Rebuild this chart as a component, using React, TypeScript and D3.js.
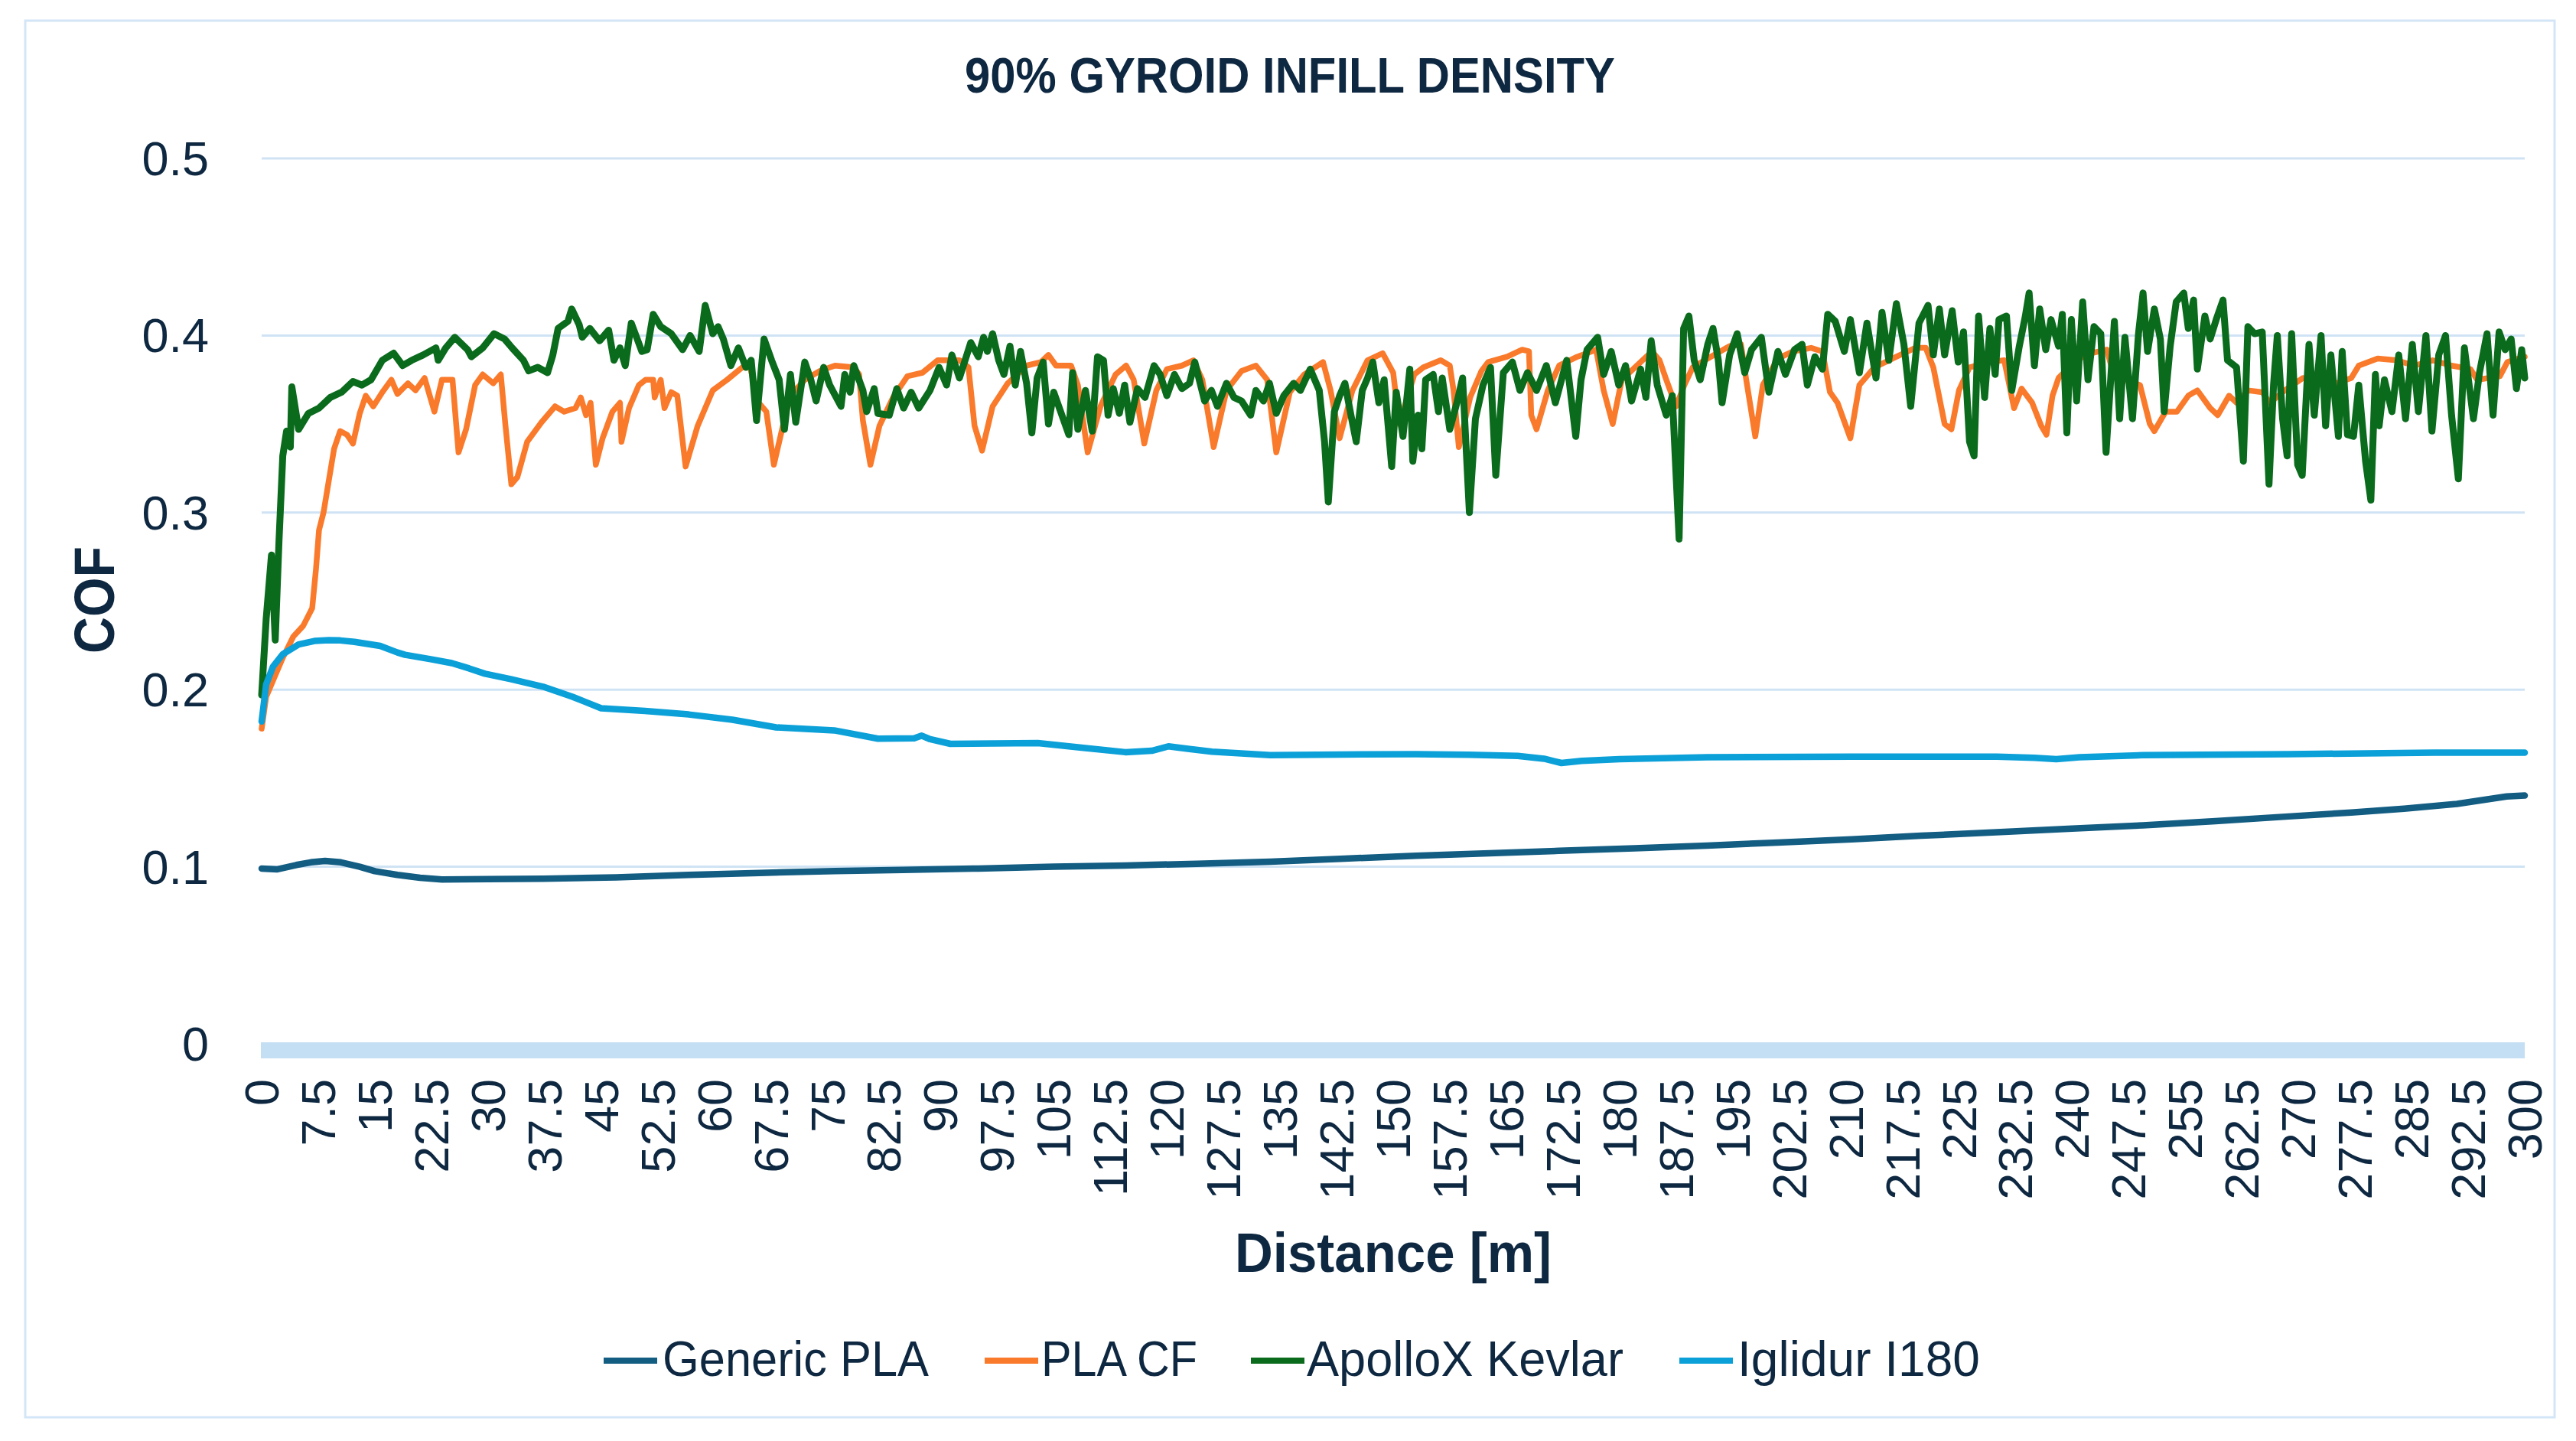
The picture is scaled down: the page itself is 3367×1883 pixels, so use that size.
import React, { useEffect } from "react";
import * as d3 from "d3";

// ---------- DATA ----------
const chartTitle = "90% GYROID INFILL DENSITY";
const xAxisTitle = "Distance [m]";
const yAxisTitle = "COF";
const seriesNames = ["Generic PLA", "PLA CF", "ApolloX Kevlar", "Iglidur I180"];
const seriesColors = ["#135D83", "#FA7A2C", "#0B6B1D", "#0CA0D8"];
const yTicks = [0, 0.1, 0.2, 0.3, 0.4, 0.5];
const yTickLabels = ["0", "0.1", "0.2", "0.3", "0.4", "0.5"];
const xTicks = [
  0, 7.5, 15, 22.5, 30, 37.5, 45, 52.5, 60, 67.5, 75, 82.5, 90, 97.5, 105, 112.5, 120, 127.5, 135,
  142.5, 150, 157.5, 165, 172.5, 180, 187.5, 195, 202.5, 210, 217.5, 225, 232.5, 240, 247.5, 255,
  262.5, 270, 277.5, 285, 292.5, 300,
];

// [distance m, COF]
const genericPLA: [number, number][] = [
  [0, 0.099], [2, 0.0985], [4.6, 0.101], [6.5, 0.1025], [8.4, 0.1033], [10.5, 0.1025], [13, 0.1],
  [15, 0.0975], [18, 0.0954], [21, 0.0938], [23.9, 0.0928], [30, 0.093], [37.3, 0.0932], [47, 0.094],
  [56.6, 0.0954], [66, 0.0965], [76, 0.0976], [85, 0.0982], [95, 0.099], [105, 0.1], [114.5, 0.1007],
  [124, 0.1017], [133.7, 0.1029], [143, 0.1045], [153, 0.1062], [162, 0.1075], [172, 0.109],
  [182, 0.1104], [191.6, 0.1119], [201, 0.1137], [210.8, 0.1155], [220, 0.1175], [230, 0.1195],
  [240, 0.1215], [249.4, 0.1234], [259, 0.1258], [268.7, 0.1284], [277, 0.1306], [284, 0.1328],
  [291, 0.1355], [297.6, 0.1397], [300, 0.1402],
];

const plaCF: [number, number][] = [
  [0, 0.178], [0.6, 0.196], [1.5, 0.205], [2.8, 0.218], [4.2, 0.23], [5.5, 0.236], [6.7, 0.246],
  [7.2, 0.268], [7.6, 0.29], [8.2, 0.3], [8.9, 0.318], [9.6, 0.336], [10.4, 0.346], [11.3, 0.344],
  [12.1, 0.339], [13, 0.356], [13.8, 0.366], [14.8, 0.36], [16, 0.368], [17.2, 0.375], [18, 0.367],
  [19.4, 0.373], [20.4, 0.369], [21.6, 0.376], [22.9, 0.357], [23.9, 0.375], [25.3, 0.375],
  [26.1, 0.334], [27.1, 0.347], [28.3, 0.372], [29.3, 0.378], [30.7, 0.373], [31.7, 0.378],
  [32.3, 0.35], [33.1, 0.316], [33.9, 0.32], [35.2, 0.34], [37.1, 0.351], [38.9, 0.36], [40.1, 0.357],
  [41.6, 0.359], [42.3, 0.365], [43, 0.355], [43.6, 0.362], [44.3, 0.327], [45.2, 0.342],
  [46.5, 0.357], [47.5, 0.362], [47.7, 0.34], [48.7, 0.359], [50, 0.372], [50.9, 0.375],
  [51.9, 0.375], [52.1, 0.365], [52.9, 0.375], [53.4, 0.359], [54.3, 0.368], [55.1, 0.366],
  [56.2, 0.326], [57.8, 0.349], [59.8, 0.369], [61.7, 0.375], [63.7, 0.382], [64.7, 0.383],
  [65.9, 0.362], [66.9, 0.357], [67.9, 0.327], [69.1, 0.349], [70.1, 0.366], [72, 0.375], [74, 0.38],
  [76, 0.383], [78.5, 0.382], [79.2, 0.378], [79.7, 0.352], [80.7, 0.327], [81.9, 0.349],
  [83.7, 0.365], [85.6, 0.377], [87.6, 0.379], [89.6, 0.386], [92.5, 0.386], [93.7, 0.382],
  [94.5, 0.349], [95.5, 0.335], [96.9, 0.36], [98.9, 0.373], [101.4, 0.383], [103.3, 0.385],
  [104.3, 0.389], [105.3, 0.383], [107.3, 0.383], [108.2, 0.372], [109.5, 0.334], [111.2, 0.36],
  [113.2, 0.378], [114.6, 0.383], [115.6, 0.375], [117, 0.339], [118.6, 0.369], [120, 0.381],
  [122, 0.383], [123.5, 0.386], [124.7, 0.375], [126.2, 0.337], [127.9, 0.369], [129.9, 0.38],
  [131.8, 0.383], [133.3, 0.375], [134.5, 0.334], [136.3, 0.368], [138.2, 0.378], [140.7, 0.385],
  [141.7, 0.369], [142.9, 0.342], [144.6, 0.369], [146.6, 0.386], [148.6, 0.39], [150, 0.379],
  [150.8, 0.35], [152.8, 0.378], [154, 0.382], [156.3, 0.386], [157.5, 0.383], [158, 0.369],
  [158.7, 0.337], [160.2, 0.365], [161.7, 0.38], [162.6, 0.385], [165.1, 0.388], [167.1, 0.392],
  [168, 0.391], [168.3, 0.355], [169, 0.347], [170.5, 0.369], [172, 0.383], [174.4, 0.388],
  [176.9, 0.392], [177.9, 0.369], [179.1, 0.35], [180.3, 0.375], [182.3, 0.383], [184.3, 0.391],
  [185.3, 0.386], [186.2, 0.375], [187.5, 0.36], [188.6, 0.372], [189.7, 0.382], [192.1, 0.388],
  [194.6, 0.394], [196.1, 0.395], [196.8, 0.375], [198, 0.343], [199, 0.372], [201, 0.387],
  [203, 0.391], [205.4, 0.393], [206.9, 0.391], [207.9, 0.368], [208.9, 0.362], [210.6, 0.342],
  [211.8, 0.372], [213.8, 0.382], [216.7, 0.388], [219.2, 0.393], [220.6, 0.393], [221.6, 0.382],
  [223.1, 0.35], [224, 0.347], [225, 0.369], [226.4, 0.382], [229, 0.385], [231, 0.386],
  [232.3, 0.359], [233.3, 0.37], [234.7, 0.362], [235.9, 0.349], [236.6, 0.344], [237.4, 0.366],
  [238.2, 0.376], [240.5, 0.386], [242.5, 0.39], [244.6, 0.392], [245.5, 0.378], [247, 0.375],
  [249, 0.372], [250.3, 0.35], [250.9, 0.346], [252.4, 0.357], [253.9, 0.357], [255.4, 0.366],
  [256.6, 0.369], [258.3, 0.359], [259.3, 0.355], [260.8, 0.366], [261.8, 0.362], [263.3, 0.369],
  [265.2, 0.368], [266.2, 0.362], [268.2, 0.369], [270.6, 0.376], [273, 0.374], [275, 0.373],
  [277, 0.376], [278, 0.383], [280.5, 0.387], [283, 0.386], [285.4, 0.383], [287.8, 0.386],
  [290.3, 0.383], [292.8, 0.381], [293.7, 0.375], [296.7, 0.377], [297.7, 0.385], [300, 0.388],
];

const apolloXKevlar: [number, number][] = [
  [0, 0.197], [0.6, 0.24], [1.3, 0.276], [1.8, 0.228], [2.3, 0.284], [2.8, 0.332], [3.3, 0.346],
  [3.8, 0.337], [4.0, 0.371], [4.9, 0.347], [6.2, 0.356], [7.6, 0.359], [9.1, 0.365], [10.6, 0.368],
  [12.1, 0.374], [13.3, 0.372], [14.5, 0.375], [16, 0.386], [17.5, 0.39], [18.7, 0.383],
  [19.9, 0.386], [21.4, 0.389], [23.1, 0.393], [23.4, 0.386], [24.4, 0.393], [25.6, 0.399],
  [27.3, 0.392], [27.8, 0.388], [29.3, 0.393], [30.8, 0.401], [32.2, 0.398], [33.2, 0.393],
  [34.7, 0.386], [35.4, 0.38], [36.6, 0.382], [37.9, 0.379], [38.6, 0.389], [39.3, 0.404],
  [40.6, 0.408], [41.1, 0.415], [42.1, 0.406], [42.5, 0.399], [43.5, 0.404], [44.8, 0.397],
  [46, 0.403], [46.7, 0.386], [47.5, 0.393], [48.2, 0.383], [49, 0.407], [49.7, 0.399],
  [50.4, 0.391], [51.1, 0.392], [51.9, 0.412], [52.9, 0.405], [54.3, 0.401], [55.8, 0.392],
  [56.8, 0.4], [58, 0.391], [58.8, 0.417], [59.8, 0.401], [60.5, 0.405], [61.2, 0.398],
  [62.2, 0.383], [63.2, 0.393], [64.2, 0.382], [64.9, 0.386], [65.6, 0.352], [66.6, 0.398],
  [67.6, 0.386], [68.6, 0.375], [69.3, 0.347], [70.1, 0.378], [70.8, 0.351], [72, 0.385],
  [72.8, 0.375], [73.5, 0.363], [74.5, 0.382], [75.3, 0.372], [76.8, 0.36], [77.3, 0.378],
  [78, 0.368], [78.5, 0.383], [79.7, 0.369], [80.2, 0.357], [81.2, 0.37], [81.7, 0.356],
  [83.2, 0.355], [84.2, 0.37], [85.1, 0.359], [86.1, 0.368], [87.1, 0.359], [88.6, 0.369],
  [89.8, 0.382], [90.8, 0.372], [91.5, 0.389], [92.5, 0.376], [94, 0.396], [95, 0.388],
  [95.7, 0.399], [96.2, 0.391], [96.9, 0.401], [97.7, 0.386], [98.4, 0.378], [99.2, 0.394],
  [99.9, 0.372], [100.6, 0.391], [101.4, 0.373], [102.1, 0.345], [102.8, 0.376], [103.6, 0.385],
  [104.3, 0.35], [105, 0.368], [106, 0.356], [107, 0.344], [107.5, 0.379], [108.2, 0.347],
  [109.2, 0.369], [110.1, 0.346], [110.8, 0.388], [111.6, 0.386], [112.2, 0.355], [112.9, 0.37],
  [113.7, 0.356], [114.4, 0.372], [115.1, 0.351], [116.1, 0.37], [117.1, 0.365], [118.3, 0.383],
  [119.1, 0.378], [120, 0.366], [121, 0.378], [122, 0.37], [123, 0.373], [123.7, 0.385],
  [125, 0.363], [125.9, 0.369], [126.7, 0.36], [127.9, 0.373], [128.9, 0.365], [129.9, 0.363],
  [131.1, 0.355], [131.8, 0.369], [132.8, 0.363], [133.6, 0.373], [134.5, 0.356], [135.5, 0.366],
  [136.8, 0.373], [137.7, 0.369], [139, 0.381], [140.2, 0.369], [140.9, 0.34], [141.4, 0.306],
  [142.2, 0.357], [142.9, 0.366], [143.6, 0.373], [144.4, 0.355], [145.1, 0.34], [145.9, 0.369],
  [146.6, 0.376], [147.3, 0.385], [148.1, 0.362], [148.8, 0.375], [149.8, 0.326], [150.4, 0.368],
  [151.3, 0.343], [152.2, 0.381], [152.6, 0.329], [153.3, 0.355], [153.8, 0.336], [154.3, 0.375],
  [155.3, 0.378], [156, 0.357], [156.5, 0.376], [157.5, 0.347], [158.5, 0.363], [159.2, 0.376],
  [160.1, 0.3], [160.9, 0.353], [161.9, 0.372], [162.9, 0.382], [163.6, 0.321], [164.6, 0.379],
  [165.8, 0.385], [166.8, 0.369], [167.8, 0.379], [169, 0.369], [170.3, 0.383], [171.5, 0.362],
  [173, 0.386], [174.2, 0.343], [174.9, 0.375], [175.7, 0.392], [177.1, 0.399], [177.9, 0.378],
  [178.9, 0.391], [179.9, 0.372], [180.8, 0.383], [181.6, 0.363], [182.8, 0.381], [183.5, 0.365],
  [184.2, 0.397], [185, 0.372], [186.2, 0.355], [187, 0.366], [187.9, 0.285], [188.5, 0.404],
  [189.2, 0.411], [189.9, 0.386], [190.7, 0.375], [191.7, 0.395], [192.4, 0.404], [193.1, 0.386],
  [193.6, 0.362], [194.6, 0.389], [195.6, 0.401], [196.6, 0.379], [197.5, 0.392], [198.8, 0.399],
  [199.8, 0.368], [201, 0.391], [202, 0.378], [203.2, 0.392], [204.2, 0.395], [204.9, 0.372],
  [205.9, 0.388], [206.9, 0.381], [207.6, 0.412], [208.6, 0.408], [209.8, 0.391], [210.6, 0.409],
  [211.8, 0.379], [212.8, 0.407], [214, 0.376], [214.8, 0.413], [215.7, 0.386], [216.7, 0.418],
  [217.7, 0.395], [218.6, 0.36], [219.7, 0.407], [220.9, 0.417], [221.6, 0.389], [222.4, 0.415],
  [223.1, 0.389], [224.1, 0.414], [224.9, 0.385], [225.6, 0.402], [226.4, 0.34], [227, 0.332],
  [227.6, 0.411], [228.4, 0.365], [229.1, 0.404], [229.8, 0.378], [230.3, 0.409], [231.3, 0.411],
  [232, 0.369], [233, 0.394], [233.8, 0.411], [234.3, 0.424], [235, 0.383], [235.7, 0.415],
  [236.5, 0.392], [237.2, 0.409], [238.2, 0.394], [238.7, 0.412], [239.3, 0.345], [239.9, 0.409],
  [240.6, 0.363], [241.4, 0.419], [242.1, 0.375], [242.9, 0.405], [243.8, 0.401], [244.5, 0.334],
  [245.6, 0.408], [246.3, 0.353], [247, 0.399], [248, 0.353], [248.8, 0.401], [249.4, 0.424],
  [250, 0.391], [250.9, 0.415], [251.7, 0.398], [252.2, 0.357], [253, 0.394], [253.8, 0.419],
  [254.8, 0.424], [255.4, 0.404], [256.1, 0.42], [256.6, 0.381], [257.6, 0.411], [258.3, 0.398],
  [259.1, 0.409], [260, 0.42], [260.6, 0.386], [261.8, 0.382], [262.7, 0.329], [263.3, 0.405],
  [264.2, 0.401], [265.2, 0.402], [266.1, 0.316], [266.7, 0.372], [267.2, 0.4], [267.9, 0.353],
  [268.5, 0.332], [269.1, 0.401], [269.9, 0.327], [270.5, 0.321], [271.4, 0.395], [272.1, 0.355],
  [273, 0.4], [273.6, 0.349], [274.3, 0.389], [275.3, 0.343], [275.8, 0.391], [276.5, 0.344],
  [277.3, 0.343], [278, 0.372], [278.9, 0.329], [279.6, 0.307], [280.2, 0.378], [280.7, 0.349],
  [281.4, 0.375], [282.4, 0.357], [283.3, 0.389], [284.2, 0.353], [285.1, 0.395], [285.9, 0.357],
  [286.9, 0.4], [287.7, 0.346], [288.6, 0.389], [289.5, 0.4], [290.3, 0.355], [291.2, 0.319],
  [292, 0.393], [293.2, 0.353], [294, 0.379], [295, 0.401], [295.8, 0.355], [296.6, 0.402],
  [297.4, 0.392], [298.2, 0.398], [298.9, 0.37], [299.6, 0.392], [300, 0.376],
];

const iglidurI180: [number, number][] = [
  [0, 0.182], [0.6, 0.203], [1.5, 0.213], [2.8, 0.22], [4.9, 0.2255], [7, 0.2275], [8.9, 0.228],
  [10.4, 0.2278], [12.3, 0.227], [15.7, 0.2247], [18, 0.221], [19, 0.2197], [22.4, 0.2172],
  [25.2, 0.215], [27.5, 0.212], [29.6, 0.209], [33, 0.206], [37.3, 0.2017], [41.2, 0.196],
  [45, 0.1895], [50.8, 0.188], [56.6, 0.186], [62.4, 0.183], [68.2, 0.1787], [75.9, 0.177],
  [81.7, 0.1723], [86.5, 0.1725], [87.5, 0.174], [88.5, 0.1722], [91.3, 0.1694], [102.9, 0.1698],
  [108.7, 0.1672], [114.5, 0.1647], [118, 0.1655], [120.2, 0.168], [123, 0.1665], [126, 0.165],
  [133.7, 0.163], [143, 0.1634], [153, 0.1636], [160, 0.1632], [166.5, 0.1626], [170, 0.161],
  [172.3, 0.1586], [175, 0.1598], [180, 0.1608], [191.6, 0.1618], [210.8, 0.1622], [230, 0.1622],
  [235, 0.1615], [237.9, 0.1608], [241, 0.1618], [249.4, 0.163], [268.7, 0.1636], [288, 0.1644],
  [300, 0.1644],
];

const allSeries = [genericPLA, plaCF, apolloXKevlar, iglidurI180];

// ---------- LAYOUT ----------
const W = 3367;
const H = 1883;
const plotLeft = 342;
const plotRight = 3300;
const plotTop = 207;
const plotBottom = 1364;
const textColor = "#0E2841";
const gridColor = "#CFE3F5";
const fontFamily = "'Liberation Sans', Arial, Helvetica, sans-serif";
const lineWidths = [8.5, 7.5, 9, 8.5];

const legendItems = [
  { lineX: 789, textX: 866, textW: 348 },
  { lineX: 1287, textX: 1361, textW: 204 },
  { lineX: 1635, textX: 1708, textW: 414 },
  { lineX: 2195, textX: 2271, textW: 317 },
];

export default function App() {
  useEffect(() => {
    document.body.style.margin = "0";
    document.body.style.overflow = "hidden";
  }, []);

  const x = d3.scaleLinear().domain([0, 300]).range([plotLeft, plotRight]);
  const y = d3.scaleLinear().domain([0, 0.5]).range([plotBottom, plotTop]);
  const line = d3
    .line<[number, number]>()
    .x((d) => x(d[0]))
    .y((d) => y(d[1]));

  return (
    <svg
      width={W}
      height={H}
      viewBox={`0 0 ${W} ${H}`}
      style={{ position: "absolute", left: 0, top: 0, background: "#fff" }}
      fontFamily={fontFamily}
    >
      <rect x={0} y={0} width={W} height={H} fill="#ffffff" />
      <rect x={33} y={27} width={3306} height={1825} fill="#ffffff" stroke="#D3E6F7" strokeWidth={3} />

      {/* title */}
      <text
        x={1686}
        y={121}
        textAnchor="middle"
        fontSize={64}
        fontWeight="bold"
        fill={textColor}
        textLength={850}
        lengthAdjust="spacingAndGlyphs"
      >
        {chartTitle}
      </text>

      {/* gridlines */}
      {yTicks.slice(1).map((t) => (
        <line key={t} x1={plotLeft} x2={plotRight} y1={y(t)} y2={y(t)} stroke={gridColor} strokeWidth={3} />
      ))}
      {/* x axis band */}
      <rect x={plotLeft - 1} y={y(0) - 2} width={plotRight - plotLeft + 1} height={21} fill="#C4DFF3" />

      {/* y tick labels */}
      {yTicks.map((t, i) => (
        <text
          key={t}
          x={273}
          y={y(t)}
          textAnchor="end"
          dominantBaseline="central"
          fontSize={63}
          fill={textColor}
        >
          {yTickLabels[i]}
        </text>
      ))}

      {/* x tick labels */}
      {xTicks.map((t) => (
        <text
          key={t}
          transform={`translate(${x(t)},1410) rotate(-90)`}
          textAnchor="end"
          dominantBaseline="central"
          fontSize={63}
          fill={textColor}
        >
          {String(t)}
        </text>
      ))}

      {/* axis titles */}
      <text
        transform="translate(123,784) rotate(-90)"
        textAnchor="middle"
        dominantBaseline="central"
        fontSize={74}
        fontWeight="bold"
        fill={textColor}
        textLength={140}
        lengthAdjust="spacingAndGlyphs"
      >
        {yAxisTitle}
      </text>
      <text
        x={(plotLeft + plotRight) / 2}
        y={1662}
        textAnchor="middle"
        fontSize={72}
        fontWeight="bold"
        fill={textColor}
        textLength={414}
        lengthAdjust="spacingAndGlyphs"
      >
        {xAxisTitle}
      </text>

      {/* series */}
      <g fill="none" strokeLinejoin="round" strokeLinecap="round">
        {allSeries.map((s, i) => (
          <path key={seriesNames[i]} d={line(s) || ""} stroke={seriesColors[i]} strokeWidth={lineWidths[i]} />
        ))}
      </g>

      {/* legend */}
      {legendItems.map((it, i) => (
        <g key={seriesNames[i]}>
          <line x1={it.lineX} x2={it.lineX + 70} y1={1778} y2={1778} stroke={seriesColors[i]} strokeWidth={8} />
          <text
            x={it.textX}
            y={1798}
            fontSize={65}
            fill={textColor}
            textLength={it.textW}
            lengthAdjust="spacingAndGlyphs"
          >
            {seriesNames[i]}
          </text>
        </g>
      ))}
    </svg>
  );
}
